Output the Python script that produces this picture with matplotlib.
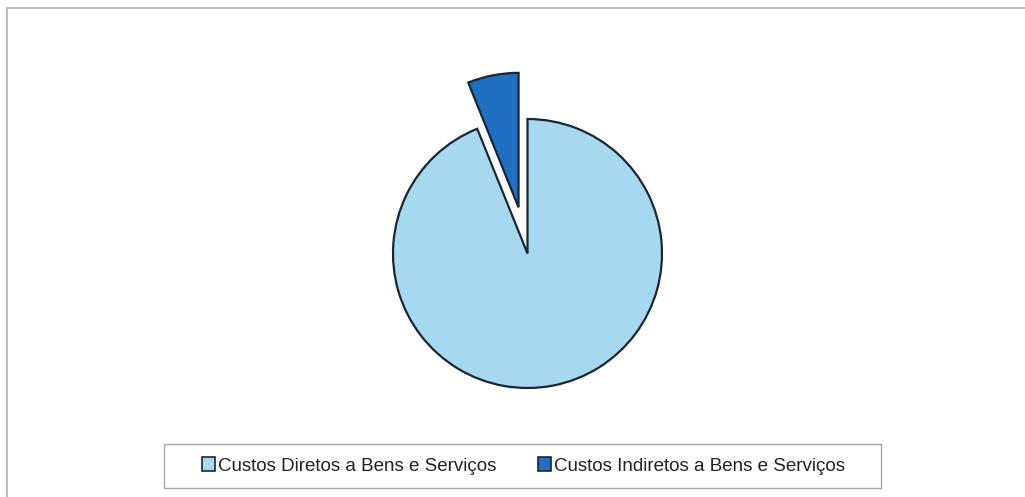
import matplotlib.pyplot as plt
from matplotlib.patches import Rectangle

plt.rcParams['font.family'] = ['Liberation Sans', 'DejaVu Sans']

labels = ['Custos Diretos a Bens e Serviços', 'Custos Indiretos a Bens e Serviços']
values = [93.9, 6.1]
colors = ['#a6d8f0', '#1f6fc2']
explode = [0, 47]   # pie offsets are in data units (pixels here)

W, H = 1025, 497
fig = plt.figure(figsize=(W / 100, H / 100), dpi=100)
ax = fig.add_axes([0, 0, 1, 1])

wedges, _ = ax.pie(values, colors=colors, explode=explode,
                   startangle=90, counterclock=False,
                   center=(527.5, H - 253.5), radius=134.5,
                   wedgeprops=dict(edgecolor='#1b2633', linewidth=1.6))

ax.set_xlim(0, W)
ax.set_ylim(0, H)
ax.set_aspect('equal')
ax.axis('off')

# outer chart frame
ax.add_patch(Rectangle((7, -5), W, H - 8 + 5, fill=False,
                       edgecolor='#b4b4b4', linewidth=1.2))
# legend frame (wider side padding than matplotlib allows)
ax.add_patch(Rectangle((164, H - 488), 881 - 164, 44, fill=False,
                       edgecolor='#a8a8a8', linewidth=1.0))

leg = ax.legend(wedges, labels, loc='center', ncol=2,
                bbox_to_anchor=(523.5 / W, 1 - 466 / H),
                frameon=False, fontsize=13.5,
                handlelength=0.7, handleheight=0.7, handletextpad=0.15,
                columnspacing=2.2, borderpad=0.2)
for t in leg.get_texts():
    t.set_color('#222222')
for h in leg.legend_handles:
    h.set_linewidth(1.2)

fig.savefig('out.png', dpi=100)
